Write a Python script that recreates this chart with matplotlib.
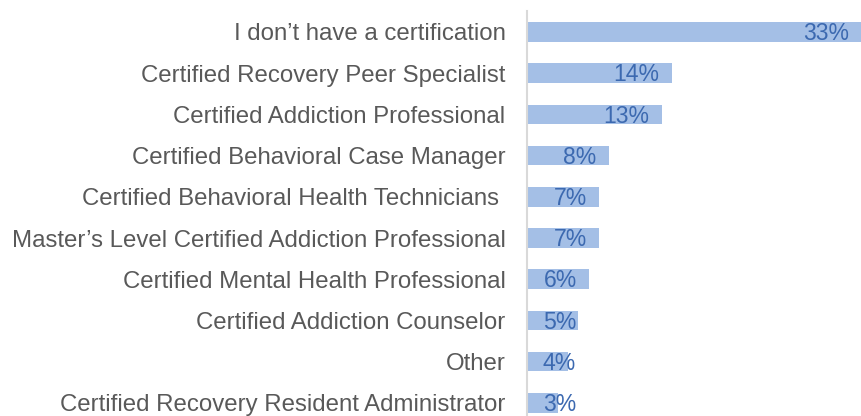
import matplotlib.pyplot as plt
import numpy as np

# survey data (percent of respondents)
categories = [
    "I don\u2019t have a certification",
    "Certified Recovery Peer Specialist",
    "Certified Addiction Professional",
    "Certified Behavioral Case Manager",
    "Certified Behavioral Health Technicians ",
    "Master\u2019s Level Certified Addiction Professional",
    "Certified Mental Health Professional",
    "Certified Addiction Counselor",
    "Other",
    "Certified Recovery Resident Administrator",
]
values = [32.8, 14.2, 13.2, 8.0, 7.1, 7.1, 6.1, 5.0, 4.0, 3.0]
labels = ["33%", "14%", "13%", "8%", "7%", "7%", "6%", "5%", "4%", "3%"]

plt.rcParams['font.family'] = ['Liberation Sans', 'DejaVu Sans']

fig = plt.figure(figsize=(8.62, 4.16), dpi=100)
ax = fig.add_axes([0.6114, -0.0178, 0.3886, 0.9904])

y = np.arange(len(categories))
ax.barh(y, values, height=0.48, color='#A4BFE6')
ax.set_ylim(len(categories) - 0.5, -0.5)
ax.set_xlim(0, 32.84)

ax.set_yticks(y)
ax.set_yticklabels(categories, fontsize=17.3, color='#595959')
ax.tick_params(axis='y', length=0, pad=15.5)
ax.set_xticks([])

for side in ['top', 'right', 'bottom']:
    ax.spines[side].set_visible(False)
ax.spines['left'].set_color('#D9D9D9')
ax.spines['left'].set_linewidth(1.5)

# value labels near the bar end
for yi, v, lab in zip(y, values, labels):
    ax.text(max(v - 1.2, 4.8), yi + 0.04, lab, ha='right', va='center',
            fontsize=16.6, color='#3C69B0')

fig.savefig('out.png', dpi=100)
